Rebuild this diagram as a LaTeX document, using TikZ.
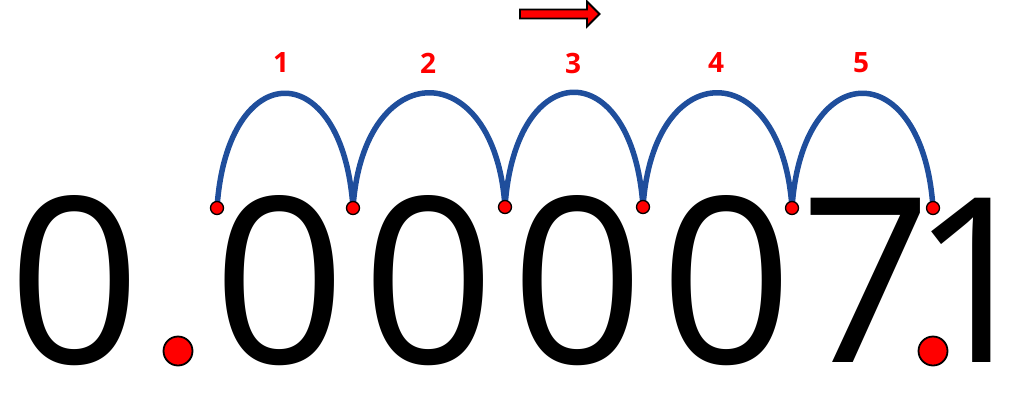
\documentclass[tikz,border=0pt]{standalone}
\usepackage{graphicx}
\usepackage{fontspec}
\newfontfamily\digfont{Open Sans}
\newfontfamily\labfont{Open Sans}
\definecolor{arcblue}{RGB}{31,78,156}
\definecolor{dotred}{RGB}{255,0,0}
\newcommand\bigdig[2]{\resizebox{!}{#1}{\digfont #2}}
\begin{document}
\begin{tikzpicture}[x=1pt,y=-1pt,
  digit/.style={inner sep=0pt, outer sep=0pt},
  steplabel/.style={inner sep=0pt, text=dotred, font=\labfont\bfseries\fontsize{28}{28}\selectfont},
  smalldot/.style={circle, fill=dotred, draw=black, line width=1.3pt, minimum size=13pt, inner sep=0pt},
  bigdot/.style={circle, fill=dotred, draw=black, line width=1.8pt, minimum size=29pt, inner sep=0pt},
  hop/.style={draw=arcblue, line width=5.5pt},
  dirarrow/.style={fill=dotred, draw=black, line width=1.8pt, line join=miter},
]
\useasboundingbox (0,0) rectangle (1024,397);
% digits
\node[digit] (d0) at (75,281) {\bigdig{168pt}{0}};
\node[digit] (d1) at (280,281) {\bigdig{168pt}{0}};
\node[digit] (d2) at (429,281) {\bigdig{168pt}{0}};
\node[digit] (d3) at (578,281) {\bigdig{168pt}{0}};
\node[digit] (d4) at (727,281) {\bigdig{168pt}{0}};
\node[digit] (d5) at (866,280) {\bigdig{164pt}{7}};
\node[digit] (d6) at (976,280) {\bigdig{164pt}{1}};
% decimal points
\node[bigdot] (old) at (178,351) {};
\node[bigdot] (new) at (933,351) {};
% hop end points
\coordinate (c1) at (217,208);
\coordinate (c2) at (353,208);
\coordinate (c3) at (505,207);
\coordinate (c4) at (643,207);
\coordinate (c5) at (792,208);
\coordinate (c6) at (933,208);
\draw[hop] (c1) .. controls +(10,-153) and +(-10,-153) .. (c2);
\draw[hop] (c2) .. controls +(10,-153) and +(-10,-153) .. (c3);
\draw[hop] (c3) .. controls +(10,-153) and +(-10,-153) .. (c4);
\draw[hop] (c4) .. controls +(10,-153) and +(-10,-153) .. (c5);
\draw[hop] (c5) .. controls +(10,-153) and +(-10,-153) .. (c6);
\foreach \i in {1,...,6} {\node[smalldot] (s\i) at (c\i) {};}
% labels
\node[steplabel] (l1) at (281,63) {1};
\node[steplabel] (l2) at (428,63) {2};
\node[steplabel] (l3) at (573,63) {3};
\node[steplabel] (l4) at (716,63) {4};
\node[steplabel] (l5) at (861,63) {5};
% direction arrow
\draw[dirarrow] (520,9.5) -- (587,9.5) -- (587,1.5) -- (599.5,14) -- (587,26.5) -- (587,18.5) -- (520,18.5) -- cycle;
\end{tikzpicture}
\end{document}
